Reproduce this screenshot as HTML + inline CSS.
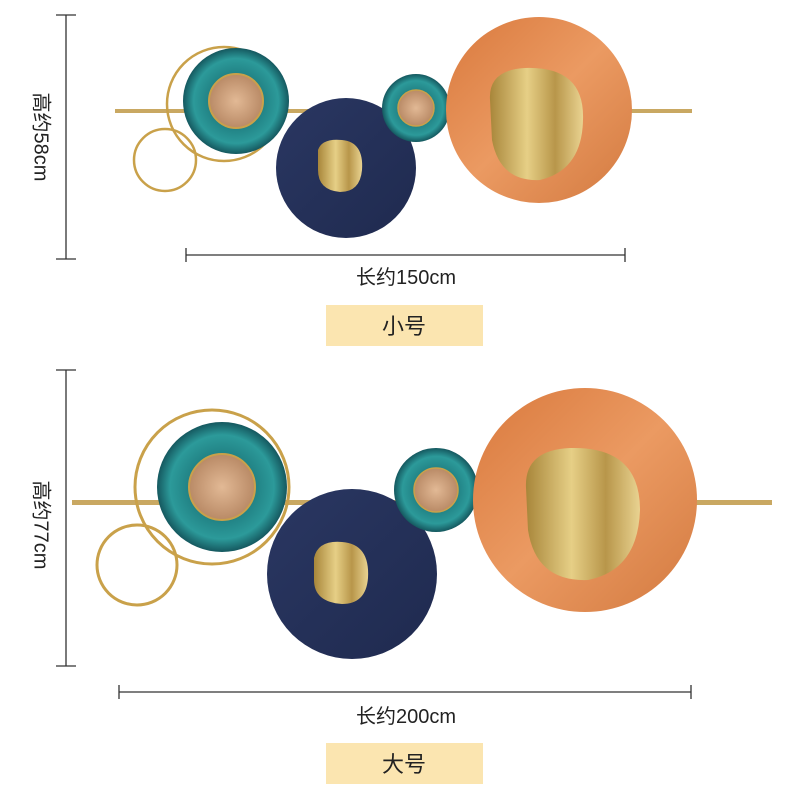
<!DOCTYPE html>
<html><head><meta charset="utf-8"><style>
html,body{margin:0;padding:0;background:#fff;}
svg{display:block;}
text{font-family:"Liberation Sans","Noto Sans CJK SC",sans-serif;fill:#222;}
</style></head><body>
<svg width="800" height="800" viewBox="0 0 800 800" xmlns="http://www.w3.org/2000/svg">
<defs>
<radialGradient id="teal" cx="50%" cy="50%" r="50%">
<stop offset="0.45" stop-color="#1f7d80"/><stop offset="0.8" stop-color="#2c9a9a"/><stop offset="1" stop-color="#15585f"/>
</radialGradient>
<radialGradient id="tan" cx="50%" cy="50%" r="50%">
<stop offset="0" stop-color="#e2b995"/><stop offset="1" stop-color="#b98a66"/>
</radialGradient>
<linearGradient id="orange" x1="0" y1="0" x2="1" y2="1">
<stop offset="0" stop-color="#d9793d"/><stop offset="0.5" stop-color="#eb9a62"/><stop offset="1" stop-color="#d37a40"/>
</linearGradient>
<linearGradient id="navy" x1="0" y1="0" x2="1" y2="1">
<stop offset="0" stop-color="#2a3762"/><stop offset="1" stop-color="#1f2a4f"/>
</linearGradient>
<linearGradient id="mirror" x1="0" y1="0" x2="1" y2="0">
<stop offset="0" stop-color="#a8863a"/><stop offset="0.4" stop-color="#e6cf86"/><stop offset="0.7" stop-color="#b8964a"/><stop offset="1" stop-color="#e9d391"/>
</linearGradient>
</defs>

<!-- TOP -->
<g stroke="#333" stroke-width="1.3">
<line x1="66" y1="15" x2="66" y2="259"/><line x1="56" y1="15" x2="76" y2="15"/><line x1="56" y1="259" x2="76" y2="259"/>
<line x1="186" y1="255" x2="625" y2="255"/><line x1="186" y1="248" x2="186" y2="262"/><line x1="625" y1="248" x2="625" y2="262"/>
</g>
<text x="40" y="137" font-size="20" text-anchor="middle" transform="rotate(90 40 137)" dominant-baseline="middle">高约58cm</text>
<text x="406" y="284" font-size="20" text-anchor="middle">长约150cm</text>
<rect x="326" y="305" width="157" height="41" fill="#fbe5b0"/>
<text x="404" y="334" font-size="22" text-anchor="middle">小号</text>

<rect x="115" y="109" width="577" height="4" fill="#c9a862"/>
<circle cx="224" cy="104" r="57" fill="none" stroke="#c9a14a" stroke-width="2.5"/>
<circle cx="165" cy="160" r="31" fill="none" stroke="#c9a14a" stroke-width="2.5"/>
<circle cx="236" cy="101" r="53" fill="url(#teal)"/>
<circle cx="236" cy="101" r="27" fill="url(#tan)" stroke="#c9a14a" stroke-width="2"/>
<circle cx="346" cy="168" r="70" fill="url(#navy)"/>
<path d="M318 150 Q322 138 342 140 Q364 142 362 170 Q360 192 340 192 Q318 190 318 170 Z" fill="url(#mirror)"/>
<circle cx="416" cy="108" r="34" fill="url(#teal)"/>
<circle cx="416" cy="108" r="18" fill="url(#tan)" stroke="#c9a14a" stroke-width="1.5"/>
<circle cx="539" cy="110" r="93" fill="url(#orange)"/>
<path d="M490 100 Q488 70 525 68 Q585 66 583 120 Q582 170 540 180 Q500 182 492 140 Z" fill="url(#mirror)"/>

<!-- BOTTOM -->
<g stroke="#333" stroke-width="1.3">
<line x1="66" y1="370" x2="66" y2="666"/><line x1="56" y1="370" x2="76" y2="370"/><line x1="56" y1="666" x2="76" y2="666"/>
<line x1="119" y1="692" x2="691" y2="692"/><line x1="119" y1="685" x2="119" y2="699"/><line x1="691" y1="685" x2="691" y2="699"/>
</g>
<text x="40" y="525" font-size="20" text-anchor="middle" transform="rotate(90 40 525)" dominant-baseline="middle">高约77cm</text>
<text x="406" y="723" font-size="20" text-anchor="middle">长约200cm</text>
<rect x="326" y="743" width="157" height="41" fill="#fbe5b0"/>
<text x="404" y="772" font-size="22" text-anchor="middle">大号</text>

<rect x="72" y="500" width="700" height="5" fill="#c9a862"/>
<circle cx="212" cy="487" r="77" fill="none" stroke="#c9a14a" stroke-width="3"/>
<circle cx="137" cy="565" r="40" fill="none" stroke="#c9a14a" stroke-width="3"/>
<circle cx="222" cy="487" r="65" fill="url(#teal)"/>
<circle cx="222" cy="487" r="33" fill="url(#tan)" stroke="#c9a14a" stroke-width="2"/>
<circle cx="352" cy="574" r="85" fill="url(#navy)"/>
<path d="M314 558 Q318 540 342 542 Q370 544 368 578 Q366 604 342 604 Q314 602 314 580 Z" fill="url(#mirror)"/>
<circle cx="436" cy="490" r="42" fill="url(#teal)"/>
<circle cx="436" cy="490" r="22" fill="url(#tan)" stroke="#c9a14a" stroke-width="1.5"/>
<circle cx="585" cy="500" r="112" fill="url(#orange)"/>
<path d="M526 488 Q524 450 570 448 Q640 446 640 510 Q638 570 588 580 Q536 582 528 530 Z" fill="url(#mirror)"/>
</svg>
</body></html>
